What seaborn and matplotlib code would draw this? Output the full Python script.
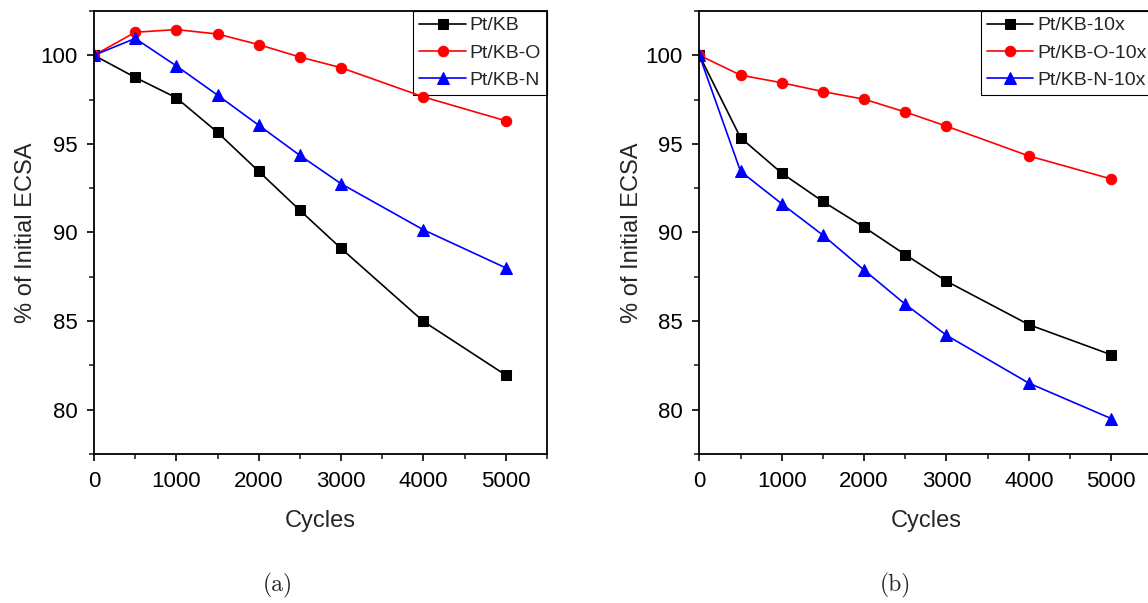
import matplotlib
matplotlib.use("Agg")
import matplotlib.pyplot as plt
import seaborn as sns
import pandas as pd
from matplotlib.ticker import MultipleLocator

# Cycle counts of the accelerated durability test
cycles = [0, 500, 1000, 1500, 2000, 2500, 3000, 4000, 5000]

# (a) retained ECSA, %
pt_kb = [100, 98.75, 97.6, 95.65, 93.45, 91.25, 89.1, 84.98, 81.95]
pt_kb_o = [100, 101.3, 101.45, 101.2, 100.6, 99.9, 99.3, 97.65, 96.3]
pt_kb_n = [100, 100.95, 99.4, 97.75, 96.05, 94.35, 92.75, 90.15, 88.0]

# (b) retained ECSA, %, 10x loading
pt_kb_10x = [100, 95.35, 93.35, 91.75, 90.3, 88.75, 87.25, 84.8, 83.1]
pt_kb_o_10x = [100, 98.88, 98.45, 97.95, 97.52, 96.8, 96.0, 94.32, 93.02]
pt_kb_n_10x = [100, 93.45, 91.62, 89.85, 87.88, 85.95, 84.2, 81.5, 79.5]

labels_a = ["Pt/KB", "Pt/KB-O", "Pt/KB-N"]
labels_b = ["Pt/KB-10x", "Pt/KB-O-10x", "Pt/KB-N-10x"]
colors = ["#000000", "#ff0000", "#0000ff"]
markers = ["s", "o", "^"]
msizes = [6.5, 7.5, 8]

sns.set_theme(style="ticks")
plt.rcParams["font.family"] = ["Liberation Sans", "DejaVu Sans"]

fig = plt.figure(figsize=(11.48, 6.03), dpi=100)
ax_a = fig.add_axes([0.0819, 0.2471, 0.3946, 0.7347])
ax_b = fig.add_axes([0.6092, 0.2471, 0.3946, 0.7347])


def draw_panel(ax, series, labels):
    for vals, lab, col, mk, ms in zip(series, labels, colors, markers, msizes):
        df = pd.DataFrame({"Cycles": cycles, "ECSA": vals})
        sns.lineplot(data=df, x="Cycles", y="ECSA", ax=ax, color=col,
                     marker=mk, markersize=ms, markeredgecolor=col,
                     linewidth=1.2, label=lab)
    ax.set_xlim(0, 5500)
    ax.set_ylim(77.5, 102.5)
    ax.xaxis.set_major_locator(MultipleLocator(1000))
    ax.xaxis.set_minor_locator(MultipleLocator(500))
    ax.yaxis.set_major_locator(MultipleLocator(5))
    ax.yaxis.set_minor_locator(MultipleLocator(2.5))
    ax.tick_params(which="major", direction="out", length=5, width=1.2,
                   labelsize=16, colors="black", pad=7)
    ax.tick_params(which="minor", direction="out", length=3.5, width=1.2)
    for sp in ax.spines.values():
        sp.set_linewidth(1.3)
        sp.set_color("black")
    ax.set_xlabel("Cycles", fontsize=17, labelpad=13)
    ax.set_ylabel("% of Initial ECSA", fontsize=17, labelpad=2)
    leg = ax.legend(loc="upper right", bbox_to_anchor=(1.0, 1.0),
                    borderaxespad=0, fontsize=14, fancybox=False,
                    framealpha=1, edgecolor="black", handlelength=2.4,
                    handletextpad=0.2, labelspacing=0.5, borderpad=0.3)
    leg.get_frame().set_linewidth(0.8)
    # keep data markers drawn above the legend box
    leg.set_zorder(1.5)


draw_panel(ax_a, [pt_kb, pt_kb_o, pt_kb_n], labels_a)
draw_panel(ax_b, [pt_kb_10x, pt_kb_o_10x, pt_kb_n_10x], labels_b)

fig.text(278 / 1148, 1 - 585 / 603, "(a)", ha="center", va="center",
         fontsize=17, family=["cmr10", "DejaVu Serif"])
fig.text(895 / 1148, 1 - 585 / 603, "(b)", ha="center", va="center",
         fontsize=17, family=["cmr10", "DejaVu Serif"])

fig.savefig("out.png", dpi=100)
